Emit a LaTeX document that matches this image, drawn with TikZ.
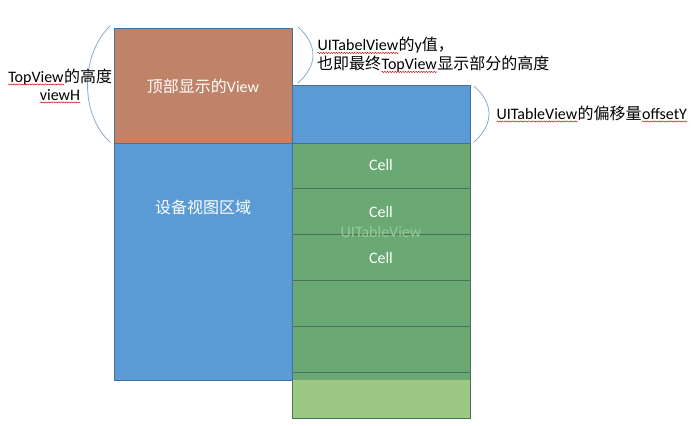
\documentclass[tikz,border=0pt]{standalone}
\usepackage{fontspec}
\setmainfont{Carlito}
\newfontfamily\cjk{Noto Sans CJK SC}
\usetikzlibrary{decorations.pathmorphing}
\definecolor{brownbox}{HTML}{C08268}
\definecolor{bluebox}{HTML}{5B9BD5}
\definecolor{blueedge}{HTML}{41719C}
\definecolor{darkgreen}{HTML}{6AA874}
\definecolor{lightgreen}{HTML}{9CC884}
\definecolor{greenedge}{HTML}{4A6F5C}
\definecolor{arccol}{HTML}{8AAAD0}
\definecolor{markcol}{HTML}{E07A50}
\definecolor{wmark}{HTML}{96C996}
\newcommand{\zh}[1]{{\cjk #1}}
\newcommand{\sqw}[1]{\tikz[baseline=(w.base)]{\node[inner sep=0pt,anchor=base](w){#1};\draw[red!80!black,line width=0.45pt,decorate,decoration={snake,amplitude=0.6pt,segment length=2.6pt}]([yshift=-2.2pt]w.base west)--([yshift=-2.2pt]w.base east);}}
\tikzset{
  lbl/.style={font=\fontsize{16}{18}\selectfont,inner sep=0pt},
  wlbl/.style={lbl,text=white},
  boxedge/.style={draw=blueedge,line width=0.6pt},
  celledge/.style={draw=greenedge,line width=0.8pt},
  brace/.style={draw=arccol,line width=0.8pt}
}
\begin{document}
\begin{tikzpicture}[x=1pt,y=-1pt]
\useasboundingbox (0,0) rectangle (700,425);
% table view (green)
\fill[darkgreen] (292,143) rectangle (470,380);
\fill[lightgreen] (292,380) rectangle (470,418);
\draw[celledge] (292,143) rectangle (470,418);
\foreach \yy in {188,234,280,326,372} {\draw[celledge] (292,\yy) -- (470,\yy);}
% device area
\node[boxedge,fill=bluebox,minimum width=178pt,minimum height=237pt,inner sep=0pt] (device) at (203,261.5) {};
% top view
\node[boxedge,fill=brownbox,minimum width=178pt,minimum height=115pt,inner sep=0pt] (top) at (203,85.5) {};
\draw[markcol,line width=0.8pt] (115,131) -- (291,131);
\fill[markcol!70!brownbox] (115,137) rectangle (291,142);
% table header area (blue)
\node[boxedge,fill=bluebox,minimum width=178pt,minimum height=58pt,inner sep=0pt] (tblhead) at (381,114) {};
% labels in boxes
\node[wlbl] (toplbl) at (203,86) {\zh{顶部显示的}View};
\node[wlbl] (devlbl) at (203,207) {\zh{设备视图区域}};
\node[lbl,text=wmark] (tvlbl) at (381,232) {UITableView};
\node[wlbl] (c1) at (381,165) {Cell};
\node[wlbl] (c2) at (381,212) {Cell};
\node[wlbl] (c3) at (381,258) {Cell};
% braces
\draw[brace] (110,26) .. controls (80,55) and (80,115) .. (110,142);
\draw[brace] (298,27) .. controls (318,45) and (318,65) .. (298,83);
\draw[brace] (474,86) .. controls (494,104) and (494,124) .. (474,142);
% side labels
\node[lbl,align=center] (lefttxt) at (60,86) {\sqw{TopView}\zh{的高度}\\\sqw{viewH}};
\node[lbl,align=left,anchor=west,font=\fontsize{16}{19}\selectfont] (ytxt) at (317,55) {\sqw{UITabelView}\zh{的}y\zh{值，}\\\zh{也即最终}\sqw{TopView}\zh{显示部分的高度}};
\node[lbl,anchor=west] (offtxt) at (496,114) {\sqw{UITableView}\zh{的偏移量}\sqw{offsetY}};
\end{tikzpicture}
\end{document}
